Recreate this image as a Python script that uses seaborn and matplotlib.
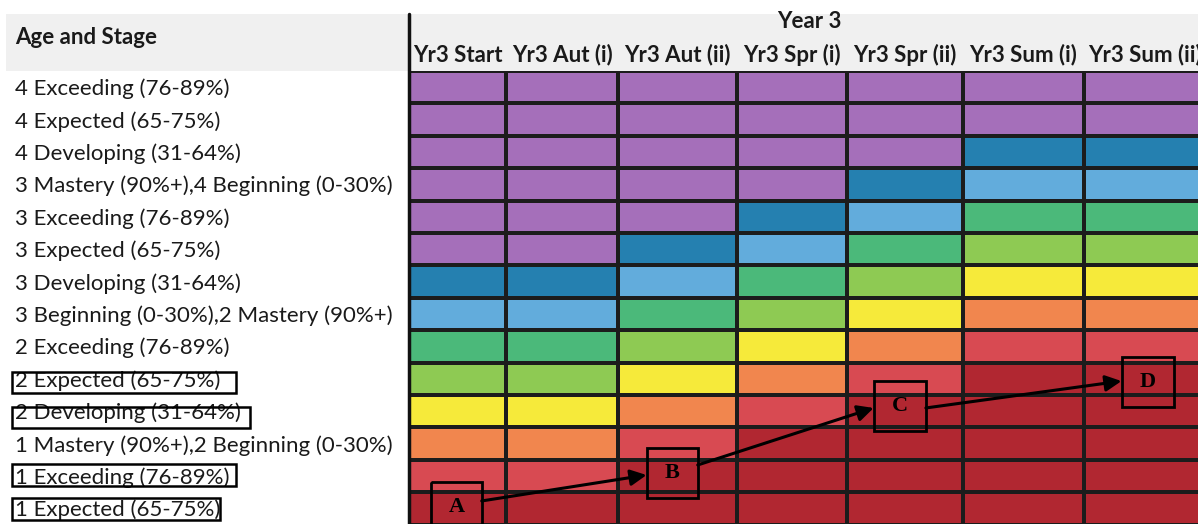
import numpy as np
import matplotlib
matplotlib.use('Agg')
import matplotlib.pyplot as plt
import seaborn as sns
from matplotlib.colors import ListedColormap
from matplotlib.patches import Rectangle
from matplotlib.lines import Line2D
from matplotlib import transforms

# Data
row_labels = [
    "4 Exceeding (76-89%)",
    "4 Expected (65-75%)",
    "4 Developing (31-64%)",
    "3 Mastery (90%+),4 Beginning (0-30%)",
    "3 Exceeding (76-89%)",
    "3 Expected (65-75%)",
    "3 Developing (31-64%)",
    "3 Beginning (0-30%),2 Mastery (90%+)",
    "2 Exceeding (76-89%)",
    "2 Expected (65-75%)",
    "2 Developing (31-64%)",
    "1 Mastery (90%+),2 Beginning (0-30%)",
    "1 Exceeding (76-89%)",
    "1 Expected (65-75%)",
]
col_labels = ["Yr3 Start", "Yr3 Aut (i)", "Yr3 Aut (ii)", "Yr3 Spr (i)",
              "Yr3 Spr (ii)", "Yr3 Sum (i)", "Yr3 Sum (ii)"]
group_label = "Year 3"

# colour level of each cell (0 = purple ... 8 = dark red)
levels = [
    [0, 0, 0, 0, 0, 0, 0],
    [0, 0, 0, 0, 0, 0, 0],
    [0, 0, 0, 0, 0, 1, 1],
    [0, 0, 0, 0, 1, 2, 2],
    [0, 0, 0, 1, 2, 3, 3],
    [0, 0, 1, 2, 3, 4, 4],
    [1, 1, 2, 3, 4, 5, 5],
    [2, 2, 3, 4, 5, 6, 6],
    [3, 3, 4, 5, 6, 7, 7],
    [4, 4, 5, 6, 7, 8, 8],
    [5, 5, 6, 7, 8, 8, 8],
    [6, 6, 7, 8, 8, 8, 8],
    [7, 7, 8, 8, 8, 8, 8],
    [8, 8, 8, 8, 8, 8, 8],
]
level_colors = ['#A56FBA', '#2580B0', '#62ACDC', '#4BB97A', '#8ECA53',
                '#F6EA3A', '#F1864E', '#D84A52', '#B12731']

# rows whose label is boxed, with box extent in pixels (x0, x1, y0, y1)
boxed_labels = [(12, 236, 372, 393), (12, 250, 407, 428),
                (12, 236, 464, 486), (12, 220, 498, 520)]

# lettered markers (label, x0, x1, y0, y1) in cell units
markers = [("A", 0.23, 0.75, 12.69, 14.23),
           ("B", 2.24, 2.67, 11.64, 13.18),
           ("C", 4.23, 4.68, 9.57, 11.11),
           ("D", 6.31, 6.74, 8.83, 10.37)]
arrows = [((0.75, 13.27), (2.24, 12.47)),
          ((2.67, 12.16), (4.23, 10.40)),
          ((4.68, 10.40), (6.31, 9.57))]

sns.set_theme(style='white')
plt.rcParams['font.family'] = ['Lato', 'DejaVu Sans']

W, H = 1198, 524
fig = plt.figure(figsize=(W / 100, H / 100), dpi=100)
fig.patch.set_facecolor('white')

# grey header band
fig.patches.append(Rectangle((6 / W, (H - 71) / H), (W - 6) / W, 57 / H,
                             transform=fig.transFigure, fc='#F0F0F0', ec='none', zorder=0))

row_h = 32.4
grid_top = 71
ax = fig.add_axes([409 / W, (H - grid_top - len(row_labels) * row_h) / H,
                   796 / W, len(row_labels) * row_h / H])
ax.set_zorder(2)
ax.patch.set_alpha(0)

# column widths differ (excel-like), map column index -> pixels
col_edges = [0, 97, 209, 328, 438, 554, 675, 796]
idx = np.arange(len(col_edges))


def fwd(x):
    return np.interp(x, idx, col_edges)


def inv(x):
    return np.interp(x, col_edges, idx)


cmap = ListedColormap(level_colors)
sns.heatmap(np.array(levels), cmap=cmap, vmin=-0.5, vmax=len(level_colors) - 0.5,
            cbar=False, linewidths=1.5, linecolor='#1c1c1c', ax=ax,
            xticklabels=False, yticklabels=False)
ax.set_xscale('function', functions=(fwd, inv))
ax.set_xlim(0, len(col_labels))
ax.set_ylim(len(row_labels), 0)
ax.set_xticks([])
ax.set_yticks([])
for s in ax.spines.values():
    s.set_visible(False)

txt_color = '#1a1a1a'
fs = 16

# headers
fig.text(15 / W, 1 - 38 / H, "Age and Stage", fontsize=fs, fontweight='bold',
         color=txt_color, ha='left', va='center')
hdr = transforms.blended_transform_factory(ax.transData, fig.transFigure)
ax.text(3.66, 1 - 22 / H, group_label, transform=hdr, fontsize=fs,
        fontweight='bold', color=txt_color, ha='center', va='center', clip_on=False)
for i, lab in enumerate(col_labels):
    ax.text(i + 0.5, 1 - 55 / H, lab, transform=hdr, fontsize=fs, fontweight='bold',
            color=txt_color, ha='center', va='center', clip_on=False)

# row labels
lbl = transforms.blended_transform_factory(fig.transFigure, ax.transData)
for i, lab in enumerate(row_labels):
    ax.text(15 / W, i + 0.55, lab, transform=lbl, fontsize=fs, color=txt_color,
            ha='left', va='center', clip_on=False)

for x0, x1, y0, y1 in boxed_labels:
    fig.patches.append(Rectangle((x0 / W, 1 - y1 / H), (x1 - x0) / W, (y1 - y0) / H,
                                 transform=fig.transFigure, fc='none', ec='black',
                                 lw=1.8, zorder=5))

# left divider
fig.add_artist(Line2D([409 / W, 409 / W], [0, 1 - 14 / H], transform=fig.transFigure,
                      color='#111111', lw=2.5, zorder=5))

# lettered boxes and arrows
for lab, x0, x1, y0, y1 in markers:
    ax.add_patch(Rectangle((x0, y0), x1 - x0, y1 - y0, fc='none', ec='black', lw=2,
                           zorder=5))
    ax.text((x0 + x1) / 2, (y0 + y1) / 2, lab, fontsize=16, fontweight='bold',
            family='Liberation Serif', color='black', ha='center', va='center', zorder=6)

for start, end in arrows:
    ax.annotate('', xy=end, xytext=start,
                arrowprops=dict(arrowstyle='-|>', color='black', lw=2.2,
                                mutation_scale=24, shrinkA=0, shrinkB=0), zorder=6)

fig.savefig('out.png', dpi=100)
